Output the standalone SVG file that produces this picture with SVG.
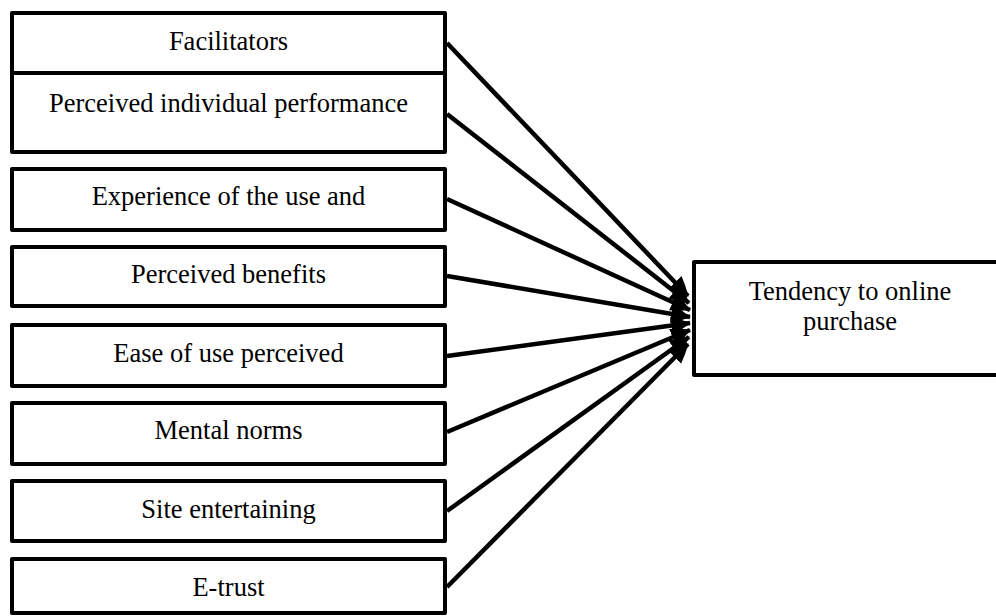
<svg xmlns="http://www.w3.org/2000/svg" width="996" height="616" viewBox="0 0 996 616">
<style>
.box{fill:#fff;stroke:#000;stroke-width:4;stroke-linejoin:round}
.t{font-family:"Liberation Serif","Times New Roman",serif;font-size:26.5px;fill:#000;text-anchor:middle}
.c{stroke:#000;stroke-width:4.5;fill:none;marker-end:url(#ah)}
</style>
<defs>
<marker id="ah" markerWidth="5" markerHeight="5" refX="4.2" refY="2.5" orient="auto" markerUnits="strokeWidth">
<path d="M0,0.5 Q2,1.2 4.4,2.5 Q2,3.8 0,4.5 Z" fill="#000"/>
</marker>
</defs>
<rect width="996" height="616" fill="#fff"/>
<g id="connectors">
<line class="c" x1="447" y1="43" x2="688" y2="296"/>
<line class="c" x1="447" y1="114" x2="689" y2="303"/>
<line class="c" x1="447" y1="199" x2="690" y2="310"/>
<line class="c" x1="447" y1="276" x2="690" y2="317"/>
<line class="c" x1="447" y1="356" x2="690" y2="323"/>
<line class="c" x1="447" y1="432" x2="690" y2="330"/>
<line class="c" x1="447" y1="511" x2="689" y2="337"/>
<line class="c" x1="447" y1="587" x2="688" y2="344"/>
</g>
<g id="n1"><rect class="box" x="12" y="13" width="433" height="60"/><text class="t" x="228.5" y="50">Facilitators</text></g>
<g id="n2"><rect class="box" x="12" y="73" width="433" height="79"/><text class="t" x="228.5" y="112">Perceived individual performance</text></g>
<g id="n3"><rect class="box" x="12" y="169" width="433" height="61"/><text class="t" x="228.5" y="205">Experience of the use and</text></g>
<g id="n4"><rect class="box" x="12" y="247" width="433" height="59"/><text class="t" x="228.5" y="283">Perceived benefits</text></g>
<g id="n5"><rect class="box" x="12" y="325" width="433" height="61"/><text class="t" x="228.5" y="362">Ease of use perceived</text></g>
<g id="n6"><rect class="box" x="12" y="403" width="433" height="61"/><text class="t" x="228.5" y="439">Mental norms</text></g>
<g id="n7"><rect class="box" x="12" y="481" width="433" height="60"/><text class="t" x="228.5" y="518">Site entertaining</text></g>
<g id="n8"><rect class="box" x="12" y="559" width="433" height="54"/><text class="t" x="228.5" y="596">E-trust</text></g>
<g id="target"><rect class="box" x="694" y="262" width="310" height="113"/><text class="t" x="850" y="300">Tendency to online</text><text class="t" x="850" y="330">purchase</text></g>
</svg>
